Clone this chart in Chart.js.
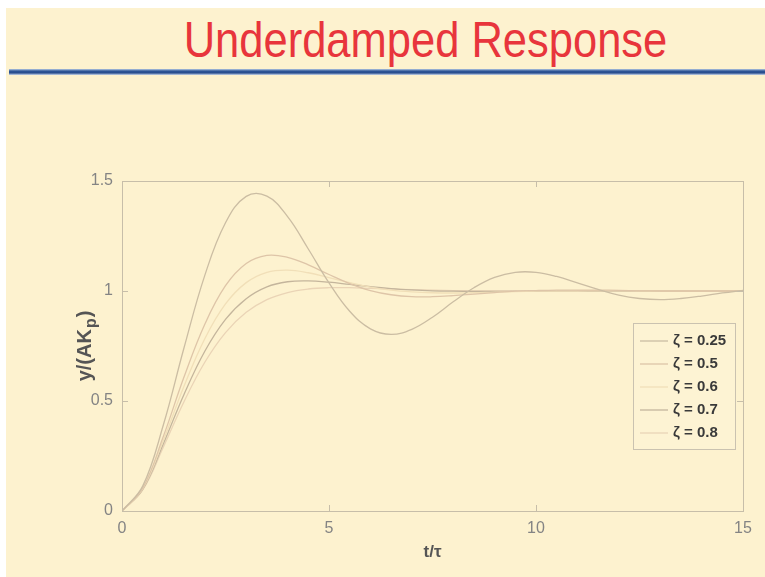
<!DOCTYPE html>
<html>
<head>
<meta charset="utf-8">
<title>Underdamped Response</title>
<script src="https://cdn.jsdelivr.net/npm/chart.js@4.4.0/dist/chart.umd.min.js"></script>
<style>
  html, body { margin: 0; padding: 0; }
  body {
    width: 765px; height: 577px; position: relative; overflow: hidden;
    background: #ffffff; font-family: "Liberation Sans", Arial, sans-serif;
  }
  #slide { position: absolute; left: 6px; top: 8px; right: 0; bottom: 0; background: #fdf2cf; }
  #title {
    position: absolute; left: 0; top: 15px; width: 851px;
    text-align: center; color: #e8353c; font-size: 50px; line-height: 50px;
    transform: scaleX(0.87); transform-origin: center;
  }
  #rule {
    position: absolute; left: 9px; right: 0; top: 69px; height: 6px;
    background: linear-gradient(#b4c8e2, #2d5596 35%, #284c8c 65%, #c9d8ec);
  }
  #chartBox { position: absolute; left: 0; top: 0; width: 765px; height: 577px; }
</style>
</head>
<body>
<div id="slide"></div>
<div id="title">Underdamped Response</div>
<div id="rule"></div>
<div id="chartBox"><canvas id="respChart" width="765" height="577"></canvas></div>

<script>
// time axis, t/τ
const tValues = [0, 0.5, 1, 1.5, 2, 2.5, 3, 3.5, 4, 4.5, 5, 5.5, 6, 6.5, 7, 7.5,
  8, 8.5, 9, 9.5, 10, 10.5, 11, 11.5, 12, 12.5, 13, 13.5, 14, 14.5, 15];

// y/(AKp) for each damping ratio
const zeta025 = [0, 0.113, 0.392, 0.743, 1.071, 1.310, 1.430, 1.431, 1.338, 1.191, 1.037,
  0.908, 0.828, 0.803, 0.826, 0.881, 0.951, 1.015, 1.062, 1.085, 1.085, 1.066, 1.037,
  1.007, 0.981, 0.966, 0.961, 0.966, 0.977, 0.991, 1.003];
const zeta05 = [0, 0.104, 0.340, 0.610, 0.849, 1.024, 1.125, 1.162, 1.153, 1.119, 1.075,
  1.034, 1.002, 0.983, 0.974, 0.974, 0.979, 0.986, 0.993, 0.999, 1.002, 1.004, 1.004,
  1.004, 1.003, 1.001, 1.000, 1.000, 1.000, 1.000, 1.000];
const zeta06 = [0, 0.101, 0.322, 0.568, 0.783, 0.941, 1.038, 1.085, 1.095, 1.083, 1.061,
  1.038, 1.018, 1.004, 0.996, 0.992, 0.991, 0.992, 0.995, 0.997, 0.999, 1.000, 1.000,
  1.001, 1.001, 1.000, 1.000, 1.000, 1.000, 1.000, 1.000];
const zeta07 = [0, 0.098, 0.306, 0.531, 0.726, 0.871, 0.965, 1.019, 1.042, 1.046, 1.040,
  1.030, 1.020, 1.011, 1.005, 1.001, 0.999, 0.998, 0.998, 0.998, 0.999, 0.999, 1.000,
  1.000, 1.000, 1.000, 1.000, 1.000, 1.000, 1.000, 1.000];
const zeta08 = [0, 0.096, 0.291, 0.498, 0.676, 0.811, 0.903, 0.961, 0.993, 1.009, 1.015,
  1.015, 1.012, 1.009, 1.006, 1.004, 1.002, 1.001, 1.000, 1.000, 1.000, 1.000, 1.000,
  1.000, 1.000, 1.000, 1.000, 1.000, 1.000, 1.000, 1.000];

const seriesLabels = ["ζ = 0.25", "ζ = 0.5", "ζ = 0.6", "ζ = 0.7", "ζ = 0.8"];
const seriesValues = [zeta025, zeta05, zeta06, zeta07, zeta08];
const seriesColors = ["#cbbda3", "#dec5a8", "#f1dfb8", "#c4b59c", "#ead4b6"];
const xTicks = [0, 5, 10, 15];
const yTicks = [0, 0.5, 1, 1.5];

const boxColor = "#c7bea9";
const fontFam = "'Liberation Sans', Arial, sans-serif";

// matlab-style box with inward tick marks
const boxPlugin = {
  id: "boxPlugin",
  afterDraw(chart) {
    const { ctx, chartArea: a, scales } = chart;
    ctx.save();
    ctx.strokeStyle = boxColor;
    ctx.lineWidth = 1;
    ctx.strokeRect(a.left + 0.5, a.top + 0.5, a.right - a.left, a.bottom - a.top);
    ctx.beginPath();
    xTicks.forEach((v) => {
      const px = Math.round(scales.x.getPixelForValue(v)) + 0.5;
      ctx.moveTo(px, a.bottom); ctx.lineTo(px, a.bottom - 6);
      ctx.moveTo(px, a.top); ctx.lineTo(px, a.top + 6);
    });
    yTicks.forEach((v) => {
      const py = Math.round(scales.y.getPixelForValue(v)) + 0.5;
      ctx.moveTo(a.left, py); ctx.lineTo(a.left + 6, py);
      ctx.moveTo(a.right, py); ctx.lineTo(a.right - 6, py);
    });
    ctx.stroke();

    // y label with a real subscript p
    ctx.translate(85, (a.top + a.bottom) / 2 + 1);
    ctx.rotate(-Math.PI / 2);
    ctx.fillStyle = "#555555";
    ctx.textBaseline = "middle";
    const big = "bold 20px " + fontFam, small = "bold 16px " + fontFam;
    const main = "y/(AK", sub = "p", close = ")";
    ctx.font = big;
    const wMain = ctx.measureText(main).width;
    const wClose = ctx.measureText(close).width;
    ctx.font = small;
    const wSub = ctx.measureText(sub).width;
    const x0 = -(wMain + wSub + wClose) / 2;
    ctx.font = big;
    ctx.fillText(main, x0, 0);
    ctx.font = small;
    ctx.fillText(sub, x0 + wMain + 1, 7);
    ctx.font = big;
    ctx.fillText(close, x0 + wMain + wSub + 2, 0);
    ctx.restore();
  },
};

// legend box inside the plot, lower right
const legendPlugin = {
  id: "insideLegend",
  afterDraw(chart) {
    const { ctx } = chart;
    const left = 633, top = 323, w = 102, h = 126, rowH = 23;
    ctx.save();
    ctx.fillStyle = "#fdf3d3";
    ctx.fillRect(left, top, w, h);
    ctx.strokeStyle = "#cac2b0";
    ctx.lineWidth = 1;
    ctx.strokeRect(left + 0.5, top + 0.5, w, h);
    ctx.textBaseline = "middle";
    chart.data.datasets.forEach((ds, i) => {
      const y = top + 18 + i * rowH;
      ctx.strokeStyle = ds.borderColor;
      ctx.lineWidth = 1.3;
      ctx.beginPath();
      ctx.moveTo(left + 7, y); ctx.lineTo(left + 35, y);
      ctx.stroke();
      ctx.fillStyle = "#3a3a3a";
      ctx.font = "bold 15px " + fontFam;
      ctx.fillText(ds.label, left + 40, y);
    });
    ctx.restore();
  },
};

const datasets = seriesValues.map((vals, i) => ({
  label: seriesLabels[i],
  data: tValues.map((t, k) => ({ x: t, y: vals[k] })),
  borderColor: seriesColors[i],
  borderWidth: 1.3,
  pointRadius: 0,
  tension: 0.4,
  fill: false,
}));

const ctx = document.getElementById("respChart").getContext("2d");
new Chart(ctx, {
  type: "line",
  data: { datasets },
  options: {
    responsive: false,
    animation: false,
    maintainAspectRatio: false,
    devicePixelRatio: 1,
    layout: { padding: { left: 0, right: 22, top: 181, bottom: 0 } },
    plugins: { legend: { display: false }, tooltip: { enabled: false } },
    scales: {
      x: {
        type: "linear",
        min: 0, max: 15,
        afterFit: (s) => { s.height = 66; },
        afterBuildTicks: (s) => { s.ticks = xTicks.map((v) => ({ value: v })); },
        grid: { display: false, drawTicks: false },
        border: { display: false },
        ticks: {
          padding: 8, maxRotation: 0,
          color: "#848484",
          font: { family: fontFam, size: 16 },
        },
        title: {
          display: true, text: "t/τ", color: "#555555",
          padding: { top: 0, bottom: 14 },
          font: { family: fontFam, size: 17, weight: "bold", lineHeight: 1.2 },
        },
      },
      y: {
        type: "linear",
        min: 0, max: 1.5,
        afterFit: (s) => { s.width = 122; },
        afterBuildTicks: (s) => { s.ticks = yTicks.map((v) => ({ value: v })); },
        grid: { display: false, drawTicks: false },
        border: { display: false },
        ticks: {
          padding: 9,
          color: "#848484",
          font: { family: fontFam, size: 16 },
          callback: (v) => String(v),
        },
        title: { display: false },
      },
    },
  },
  plugins: [boxPlugin, legendPlugin],
});
</script>
</body>
</html>
